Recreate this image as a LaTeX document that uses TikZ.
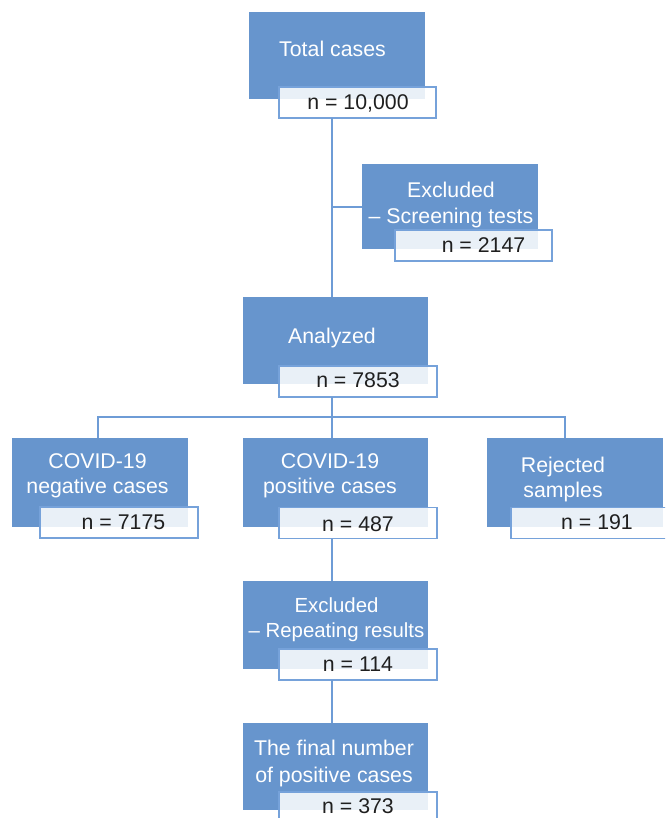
\documentclass[tikz,border=0pt]{standalone}
\usepackage{fontspec}
\setmainfont{Liberation Sans}
\definecolor{boxblue}{RGB}{103,149,205}
\definecolor{nblue}{RGB}{118,162,218}
\definecolor{lblue}{RGB}{110,156,214}
\begin{document}
\begin{tikzpicture}[x=1pt,y=-1pt,
 bbox/.style={fill=boxblue, draw=none, inner sep=0, outer sep=0},
 nbox/.style={draw=nblue, fill=white, fill opacity=0.86, line width=1.3pt, inner sep=0, outer sep=0},
 wtxt/.style={text=white, font=\fontsize{21.3}{25}\selectfont, align=center, anchor=base, inner sep=0},
 ntxt/.style={text=black!88, font=\fontsize{21.3}{25}\selectfont, anchor=base, inner sep=0},
 conn/.style={draw=lblue, line width=1.5pt}]
\clip (0,0) rectangle (665,818);
% blue boxes
\node[bbox, minimum width=176, minimum height=87] (total) at (337,55.5) {};
\node[bbox, minimum width=176, minimum height=85] (ex1) at (450,206.5) {};
\node[bbox, minimum width=185, minimum height=87] (an) at (335.5,340.5) {};
\node[bbox, minimum width=176, minimum height=89] (neg) at (100,482.5) {};
\node[bbox, minimum width=185, minimum height=89] (pos) at (335.5,482.5) {};
\node[bbox, minimum width=176, minimum height=89] (rej) at (575,482.5) {};
\node[bbox, minimum width=185, minimum height=88] (rep) at (335.5,625) {};
\node[bbox, minimum width=185, minimum height=87] (fin) at (335.5,766.5) {};
% n boxes
\node[nbox, minimum width=157, minimum height=31] (n1) at (357.5,102.5) {};
\node[nbox, minimum width=157, minimum height=31] (n2) at (473.5,245.5) {};
\node[nbox, minimum width=158, minimum height=31] (n3) at (358,381.5) {};
\node[nbox, minimum width=158, minimum height=31] (n4) at (119,522.5) {};
\node[nbox, minimum width=158, minimum height=31] (n5) at (358,523) {};
\node[nbox, minimum width=158, minimum height=31] (n6) at (590,523) {};
\node[nbox, minimum width=158, minimum height=31] (n7) at (358,664.5) {};
\node[nbox, minimum width=158, minimum height=31] (n8) at (358,807.5) {};
% connectors
\coordinate (j1) at (332,207);
\coordinate (hl) at (98,417);
\coordinate (hr) at (565,417);
\draw[conn] (n1.south -| j1) -- (an.north -| j1);
\draw[conn] (j1) -- (ex1.west |- j1);
\draw[conn] (n3.south -| j1) -- (pos.north -| j1);
\draw[conn] (neg.north -| hl) -- (hl) -- (hr) -- (rej.north -| hr);
\draw[conn] (n5.south -| j1) -- (rep.north -| j1);
\draw[conn] (n7.south -| j1) -- (fin.north -| j1);
% texts (multi-line nodes anchored at the last line's baseline)
\node[wtxt] (t1) at (332.5,57) {Total cases};
\node[ntxt] (tn1) at (358,110) {n = 10,000};
\node[wtxt] (t2) at (451,223) {Excluded\\– Screening tests};
\node[ntxt] (tn2) at (483.5,252) {n = 2147};
\node[wtxt] (t3) at (332,343) {Analyzed};
\node[ntxt] (tn3) at (358,387) {n = 7853};
\node[wtxt] (t4) at (97.5,493) {COVID-19\\negative cases};
\node[ntxt] (tn4) at (123.5,529) {n = 7175};
\node[wtxt] (t5) at (330,493) {COVID-19\\positive cases};
\node[ntxt] (tn5) at (358,531) {n = 487};
\node[wtxt] (t6) at (563,497) {Rejected\\samples};
\node[ntxt] (tn6) at (597,529) {n = 191};
\node[wtxt, font=\fontsize{20.4}{24.5}\selectfont] (t7) at (336.5,637) {Excluded\\– Repeating results};
\node[ntxt] (tn7) at (358,671) {n = 114};
\node[wtxt, font=\fontsize{21.3}{26.5}\selectfont] (t8) at (334,782) {The final number\\of positive cases};
\node[ntxt] (tn8) at (358,813) {n = 373};
\end{tikzpicture}
\end{document}
